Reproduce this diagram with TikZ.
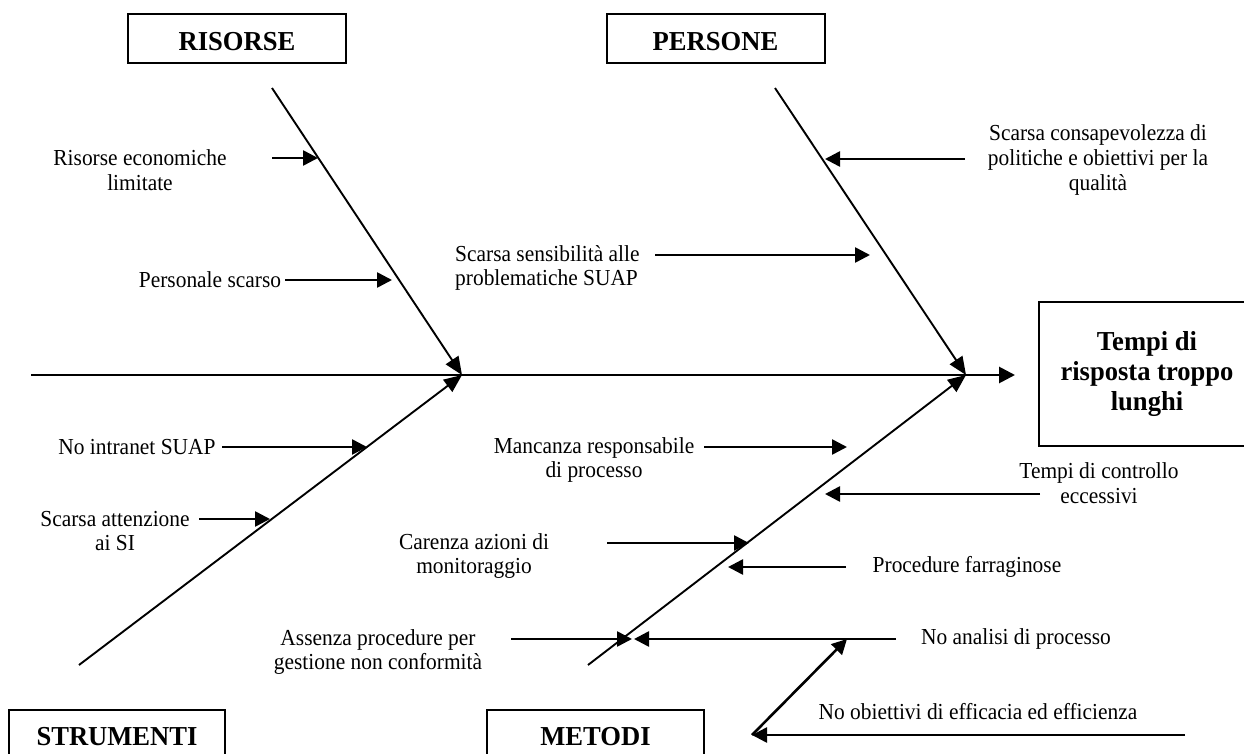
\documentclass[tikz,border=0pt]{standalone}
\usepackage{fontspec}
\setmainfont{Liberation Serif}[FakeStretch=0.935]
\newfontfamily\headfont{Liberation Serif}[FakeStretch=0.97]
\usetikzlibrary{arrows.meta}
\begin{document}
\begin{tikzpicture}[x=1bp,y=-1bp,
  lbl/.style={font=\fontsize{23}{25}\selectfont, inner sep=0pt, align=center},
  head/.style={draw, line width=2bp, font=\headfont\fontsize{27.5}{30}\selectfont\bfseries, inner sep=0pt, align=center},
  cause/.style={line width=2.6bp, -{Triangle[length=15bp,width=15bp]}},
  bone/.style={line width=1.9bp, -{Triangle[length=18bp,width=15bp]}},
  spine/.style={line width=2.8bp, -{Triangle[length=16bp,width=16bp]}}]
\useasboundingbox (0,0) rectangle (1244,754);
\clip (0,0) rectangle (1244,754);

% category boxes
\node[head, minimum width=218bp, minimum height=49bp, text height=25bp, text depth=0pt] (risorse) at (237,38.5) {RISORSE};
\node[head, minimum width=218bp, minimum height=49bp, text height=25bp, text depth=0pt] (persone) at (715.5,38.5) {PERSONE};
\node[head, minimum width=216bp, minimum height=54bp] (strumenti) at (117,737) {STRUMENTI};
\node[head, minimum width=217bp, minimum height=54bp] (metodi) at (595.5,737) {METODI};
% effect box
\node[head, minimum width=216bp, minimum height=144bp] (effetto) at (1147,374) {Tempi di\\risposta troppo\\lunghi};

% spine and bones
\coordinate (sp0) at (31,375);
\coordinate (sp1) at (1015,375);
\coordinate (j1) at (462,375);
\coordinate (j2) at (966,375);
\coordinate (b1) at (272,88);
\coordinate (b2) at (775,88);
\coordinate (b3) at (79,665);
\coordinate (b4) at (588,665);
\draw[spine] (sp0) -- (sp1);
\draw[bone] (b1) -- (j1);
\draw[bone] (b2) -- (j2);
\draw[bone] (b3) -- (j1);
\draw[bone] (b4) -- (j2);

% causes: labels
\node[lbl] (t1) at (140,170) {Risorse economiche\\limitate};
\node[lbl] (t2) at (210,280) {Personale scarso};
\node[lbl, anchor=west, align=left] (t3) at (455,268) {Scarsa sensibilità alle\\problematiche SUAP};
\node[lbl] (t4) at (1098,160) {Scarsa consapevolezza di\\politiche e obiettivi per la\\qualità};
\node[lbl] (t5) at (137,447) {No intranet SUAP};
\node[lbl] (t6) at (115,531) {Scarsa attenzione\\ai SI};
\node[lbl] (t7) at (594,460) {Mancanza responsabile\\di processo};
\node[lbl] (t8) at (1099,483) {Tempi di controllo\\eccessivi};
\node[lbl] (t9) at (474,556) {Carenza azioni di\\monitoraggio};
\node[lbl] (t10) at (967,567) {Procedure farraginose};
\node[lbl] (t11) at (378,652) {Assenza procedure per\\gestione non conformità};
\node[lbl] (t12) at (1016,639) {No analisi di processo};
\node[lbl] (t13) at (978,712) {No obiettivi di efficacia ed efficienza};

% causes: arrow ends
\coordinate (c1a) at (272,158);  \coordinate (c1b) at (318,158);
\coordinate (c2a) at (285,280);  \coordinate (c2b) at (392,280);
\coordinate (c3a) at (655,255);  \coordinate (c3b) at (870,255);
\coordinate (c4a) at (965,159);  \coordinate (c4b) at (825,159);
\coordinate (c5a) at (222,447);  \coordinate (c5b) at (367,447);
\coordinate (c6a) at (199,519);  \coordinate (c6b) at (270,519);
\coordinate (c7a) at (704,447);  \coordinate (c7b) at (847,447);
\coordinate (c8a) at (1040,494); \coordinate (c8b) at (825,494);
\coordinate (c9a) at (607,543);  \coordinate (c9b) at (749,543);
\coordinate (c10a) at (846,567); \coordinate (c10b) at (728,567);
\coordinate (c11a) at (511,639); \coordinate (c11b) at (632,639);
\coordinate (c12a) at (896,639); \coordinate (c12b) at (634,639);
\coordinate (c13a) at (1185,735); \coordinate (c13b) at (752,735);
\coordinate (c14b) at (847,639);

\draw[cause] (c1a) -- (c1b);
\draw[cause] (c2a) -- (c2b);
\draw[cause] (c3a) -- (c3b);
\draw[cause] (c4a) -- (c4b);
\draw[cause] (c5a) -- (c5b);
\draw[cause] (c6a) -- (c6b);
\draw[cause] (c7a) -- (c7b);
\draw[cause] (c8a) -- (c8b);
\draw[cause] (c9a) -- (c9b);
\draw[cause] (c10a) -- (c10b);
\draw[cause] (c11a) -- (c11b);
\draw[cause] (c12a) -- (c12b);
\draw[cause] (c13a) -- (c13b);
\draw[cause] (c13b) -- (c14b);
\end{tikzpicture}
\end{document}
